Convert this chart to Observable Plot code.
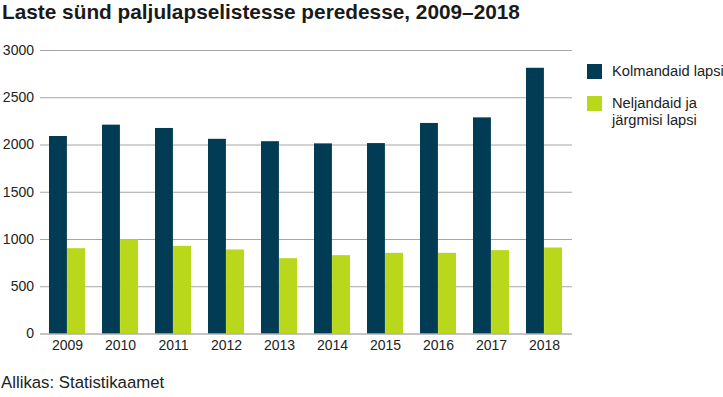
<!DOCTYPE html>
<html>
<head>
<meta charset="utf-8">
<script src="https://cdn.jsdelivr.net/npm/d3@7"></script>
<script src="https://cdn.jsdelivr.net/npm/@observablehq/plot@0.6"></script>
<style>
  html, body { margin: 0; padding: 0; background: #fff; }
  #wrap { position: relative; width: 723px; height: 397px;
          font-family: "Liberation Sans", Arial, sans-serif; color: #222; }
  #title { position: absolute; left: 2px; top: 0px; font-size: 20.8px; line-height: 23.4px;
           font-weight: bold; color: #1a1a1a; white-space: nowrap; }
  #chart { position: absolute; left: 0; top: 30px; }
  #caption { position: absolute; left: 1px; top: 373px; font-size: 16.8px; line-height: 20px; white-space: nowrap; }
  .leg { position: absolute; left: 587px; width: 15px; height: 15px; }
  .legtxt { position: absolute; left: 612px; font-size: 14.7px; line-height: 16.7px; white-space: nowrap; }
</style>
</head>
<body>
<div id="wrap">
  <div id="title"></div>
  <div id="chart"></div>
  <div id="caption"></div>
</div>
<script>
const titleText = "Laste sünd paljulapselistesse peredesse, 2009–2018";
const captionText = "Allikas: Statistikaamet";
const years = ["2009","2010","2011","2012","2013","2014","2015","2016","2017","2018"];
const seriesNames = ["Kolmandaid lapsi", "Neljandaid ja järgmisi lapsi"];
const seriesLegendLines = [["Kolmandaid lapsi"], ["Neljandaid ja", "järgmisi lapsi"]];
const third = [2090, 2210, 2175, 2060, 2035, 2012, 2015, 2228, 2287, 2812];
const fourthPlus = [903, 998, 928, 889, 797, 829, 854, 854, 882, 910];
const yTicks = [0, 500, 1000, 1500, 2000, 2500, 3000];
const colors = ["#023b54", "#b9d71b"];

const data = [];
years.forEach((y, i) => {
  data.push({year: y, series: seriesNames[0], value: third[i]});
  data.push({year: y, series: seriesNames[1], value: fourthPlus[i]});
});

const half = 532 / 10 * 0.68 / 2;

const plot = Plot.plot({
  width: 723,
  height: 340,
  marginTop: 20,
  marginBottom: 36.5,
  marginLeft: 40,
  marginRight: 151,
  style: {fontFamily: "'Liberation Sans', Arial, sans-serif", fontSize: "14px", color: "#222", background: "#fff"},
  x: {domain: years, paddingInner: 0.32, paddingOuter: 0.16, label: null},
  y: {domain: [0, 3000], label: null},
  color: {domain: seriesNames, range: colors},
  marks: [
    Plot.ruleY(yTicks.filter(d => d > 0), {stroke: "#a6a6a6", strokeWidth: 1}),
    Plot.barY(data.filter(d => d.series === seriesNames[0]), {x: "year", y: "value", fill: colors[0], insetRight: half}),
    Plot.barY(data.filter(d => d.series === seriesNames[1]), {x: "year", y: "value", fill: colors[1], insetLeft: half}),
    Plot.ruleY([0], {stroke: "#888", strokeWidth: 1}),
    Plot.axisY({ticks: yTicks, tickSize: 0, tickPadding: 6.5, tickFormat: d => String(d), fontSize: 14, label: null}),
    Plot.axisX({tickSize: 0, tickPadding: 6.5, fontSize: 14, label: null})
  ]
});
document.getElementById("chart").appendChild(plot);
document.getElementById("title").textContent = titleText;
document.getElementById("caption").textContent = captionText;

const wrap = document.getElementById("wrap");
const legTops = [64, 96];
const txtTops = [63, 95];
seriesNames.forEach((s, i) => {
  const sw = document.createElement("div");
  sw.className = "leg";
  sw.style.top = legTops[i] + "px";
  sw.style.background = colors[i];
  wrap.appendChild(sw);
  const t = document.createElement("div");
  t.className = "legtxt";
  t.style.top = txtTops[i] + "px";
  t.innerHTML = seriesLegendLines[i].join("<br>");
  wrap.appendChild(t);
});
</script>
</body>
</html>
